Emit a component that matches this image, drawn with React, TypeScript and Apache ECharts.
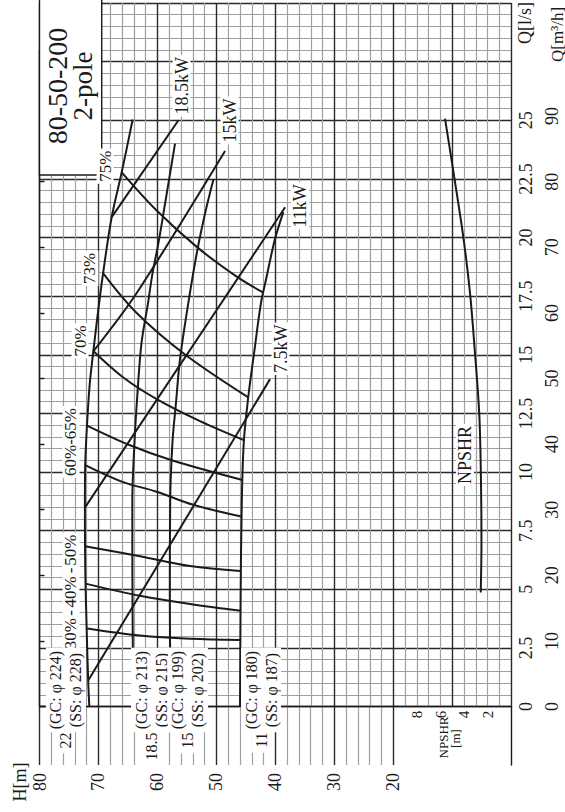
import React, { useEffect, useRef } from 'react';
import * as echarts from 'echarts';

const FONT = "'Liberation Serif', 'Times New Roman', 'DejaVu Serif', serif";
const INK = '#1a1a1a';

// ---------- H-Q curves (Q in l/s, H in m) ----------
const hq22Q = [0, 1.12, 3.3, 5.24, 6.83, 8.74, 10.29, 11.98, 13.7, 15.13, 16.92, 18.54, 20.87, 22.78, 25.03];
const hq22H = [71.55, 71.75, 72.0, 72.2, 72.28, 72.3, 72.25, 71.95, 71.5, 70.88, 70.03, 69.18, 67.76, 66.06, 64.2];
const hq185Q = [0, 4.51, 8.74, 11.28, 13.39, 15.51, 17.2, 18.47, 19.74, 21.43, 24.0];
const hq185H = [64.09, 64.23, 64.26, 63.89, 63.38, 62.7, 61.6, 60.84, 59.85, 58.72, 57.02];
const hq15Q = [0, 4.51, 8.74, 11.28, 12.97, 14.8, 17.2, 19.32, 21.01, 22.49];
const hq15H = [57.75, 57.9, 57.84, 57.45, 56.85, 56.18, 54.77, 53.34, 51.94, 50.49];
const hq11Q = [0, 4.5, 8.7, 11.3, 13.2, 15.1, 17.2, 18.2, 19.9, 21.08];
const hq11H = [46.0, 45.9, 45.7, 45.35, 44.6, 43.6, 42.45, 41.6, 40.1, 38.66];

// ---------- Power lines ----------
const p185Q = [20.87, 24.99];
const p185H = [67.76, 56.46];
const p15Q = [15.15, 17.6, 23.69];
const p15H = [70.85, 63.6, 48.54];
const p11Q = [8.48, 21.29];
const p11H = [72.3, 38.35];
const p75Q = [1.12, 13.96];
const p75H = [71.72, 40.91];

// ---------- Efficiency curves ----------
const e30Q = [3.33, 3.03, 2.89, 2.84];
const e30H = [71.9, 62.96, 54.48, 45.95];
const e40Q = [5.24, 4.72, 4.37, 4.08];
const e40H = [72.2, 62.96, 54.48, 45.9];
const e50Q = [6.83, 6.41, 5.99, 5.78];
const e50H = [72.28, 62.96, 54.48, 45.9];
const e60Q = [10.29, 9.59, 9.16, 8.6, 8.1];
const e60H = [72.25, 66.06, 60.13, 53.92, 45.8];
const e65Q = [11.98, 11.14, 10.5, 9.66];
const e65H = [71.95, 64.65, 57.58, 45.6];
const e70Q = [15.16, 14.03, 13.11, 12.17, 11.35];
const e70H = [70.88, 65.79, 60.13, 52.78, 45.25];
const e73Q = [18.47, 16.78, 15.01, 13.18];
const e73H = [69.2, 63.52, 55.33, 44.59];
const e75Q = [22.78, 21.15, 19.6, 18.33, 17.66];
const e75H = [66.06, 60.13, 53.34, 46.56, 42.1];

// ---------- NPSHR (m) ----------
const npshrQ = [4.86, 7.05, 9.59, 12.41, 15.01, 17.63, 20.03, 22.84, 25.07];
const npshrVal = [2.59, 2.53, 2.57, 2.71, 3.07, 3.5, 4.07, 4.92, 5.62];
const NPSHR_SCALE = 2; // NPSHR scale: 1 m NPSHR = 2 m of head grid

// ---------- Tick labels ----------
const qLsMaxLabel = 25;
const qM3MaxLabel = 90;
const npshrTicks = [2, 4, 6, 8];

// ---------- Annotation texts (anchored in H, Q) ----------
const powerLabelText = ['18.5kW', '15kW', '11kW', '7.5kW'];
const powerLabelH = [55.92, 47.78, 35.83, 39.13];
const powerLabelQ = [26.47, 24.99, 21.35, 15.26];

const effLabelText = ['75%', '73%', '70%', '60%-65%', '50%', '-', '40%', '-', '30%'];
const effLabelH = [68.89, 71.44, 73.13, 74.66, 74.66, 74.66, 74.66, 74.66, 74.66];
const effLabelQ = [23.04, 18.68, 15.59, 11.28, 6.67, 5.8, 4.89, 3.99, 3.11];

const diaNumber = ['22', '18.5', '15', '11'];
const diaGC = ['(GC: φ 224)', '(GC: φ 213)', '(GC: φ 199)', '(GC: φ 180)'];
const diaSS = ['(SS: φ 228)', '(SS: φ 215)', '(SS: φ 202)', '(SS: φ 187)'];
const diaGroupH = [75.51, 61.09, 54.82, 42.44];
const diaLineQ = 0.7;
const diaNumQ = -1.02;

const npshrLabelH = 7.84;
const npshrLabelQ = 10.73;

const zip = (h: number[], q: number[]) => h.map((v, i) => [v, q[i]]);

const majorLine = { color: '#2a2a2a', width: 1.4 };
const minorLine = { color: '#a0a0a0', width: 1.2 };

function lineSeries(h: number[], q: number[], smooth: number | boolean = 0.35) {
  return {
    type: 'line',
    xAxisIndex: 0,
    yAxisIndex: 0,
    data: zip(h, q),
    showSymbol: false,
    symbol: 'none',
    smooth,
    silent: true,
    z: 5,
    lineStyle: { color: INK, width: 2 },
  };
}

function rtext(
  text: string,
  x: number,
  y: number,
  size: number,
  bg = true,
  align = 'center',
  extra: any = {},
) {
  return {
    type: 'text',
    x,
    y,
    rotation: Math.PI / 2,
    z: 100,
    silent: true,
    style: {
      text,
      fontSize: size,
      fontFamily: FONT,
      fill: INK,
      align,
      verticalAlign: 'middle',
      backgroundColor: bg ? '#ffffff' : 'transparent',
      padding: bg ? [0, 2, 0, 2] : 0,
      ...extra,
    },
  };
}

export default function App() {
  const ref = useRef<HTMLDivElement>(null);

  useEffect(() => {
    if (!ref.current) return;
    const chart = echarts.init(ref.current, undefined, { renderer: 'svg' });
    const axisFont = { fontSize: 18, fontFamily: FONT, color: INK };

    const option: any = {
      animation: false,
      backgroundColor: '#ffffff',
      grid: [
        { left: 39.5, right: 53.7, top: -2, bottom: 105.5 },
        { left: 39.5, right: 171.7, top: 706.5, bottom: 47 },
        { left: 393.3, right: 53.7, top: 706.5, bottom: 47 },
        { left: 39.5, right: 53.7, top: 50.5, bottom: 105.5 },
      ],
      xAxis: [
        {
          gridIndex: 0, type: 'value', min: 0, max: 80, interval: 10, inverse: true,
          axisLine: { show: false }, axisTick: { show: false }, axisLabel: { show: false },
          splitLine: { show: true, lineStyle: majorLine },
          minorTick: { show: false, splitNumber: 5 },
          minorSplitLine: { show: true, lineStyle: minorLine },
        },
        {
          gridIndex: 1, type: 'value', min: 20, max: 80, interval: 10, inverse: true,
          axisLine: { show: true, lineStyle: { color: INK, width: 1.4 } },
          axisTick: { show: false },
          axisLabel: { show: true, rotate: 90, margin: 8, ...axisFont },
          splitLine: { show: true, lineStyle: majorLine },
          minorTick: { show: false, splitNumber: 5 },
          minorSplitLine: { show: true, lineStyle: minorLine },
        },
        {
          gridIndex: 2, type: 'value', min: 0, max: 20, inverse: true,
          axisLine: { show: true, lineStyle: { color: INK, width: 1.4 } },
          axisTick: { show: false }, axisLabel: { show: false }, splitLine: { show: false },
        },
        { gridIndex: 3, type: 'value', min: 0, max: 1, show: false },
      ],
      yAxis: [
        {
          gridIndex: 0, type: 'value', min: 0, max: 30, interval: 2.5, position: 'right',
          axisLine: { show: false }, axisTick: { show: false },
          axisLabel: {
            show: true, rotate: 90, margin: 6, ...axisFont,
            formatter: (v: number) => (v <= qLsMaxLabel ? String(v) : ''),
          },
          splitLine: { show: true, lineStyle: majorLine },
          minorTick: { show: false, splitNumber: 5 },
          minorSplitLine: { show: true, lineStyle: minorLine },
        },
        { gridIndex: 1, type: 'value', min: -2.5, max: 0, show: false },
        {
          gridIndex: 2, type: 'value', min: -2.5, max: 0, position: 'right',
          axisLine: { show: true, lineStyle: { color: INK, width: 1.4 } },
          axisTick: { show: false }, axisLabel: { show: false }, splitLine: { show: false },
        },
        {
          gridIndex: 3, type: 'value', min: 0, max: 100, interval: 10, position: 'right', offset: 28,
          axisLine: { show: true, lineStyle: { color: INK, width: 1.4 } },
          axisTick: { show: true, length: 5, lineStyle: { color: INK, width: 1.4 } },
          axisLabel: {
            show: true, rotate: 90, margin: 4, ...axisFont,
            formatter: (v: number) => (v <= qM3MaxLabel ? String(v) : ''),
          },
          splitLine: { show: false },
        },
      ],
      series: [
        lineSeries(hq22H, hq22Q),
        lineSeries(hq185H, hq185Q),
        lineSeries(hq15H, hq15Q),
        lineSeries(hq11H, hq11Q),
        lineSeries(p185H, p185Q, false),
        lineSeries(p15H, p15Q, 0.3),
        lineSeries(p11H, p11Q, false),
        lineSeries(p75H, p75Q, false),
        lineSeries(e30H, e30Q),
        lineSeries(e40H, e40Q),
        lineSeries(e50H, e50Q),
        lineSeries(e60H, e60Q),
        lineSeries(e65H, e65Q),
        lineSeries(e70H, e70Q),
        lineSeries(e73H, e73Q),
        lineSeries(e75H, e75Q),
        lineSeries(npshrVal.map((v) => v * NPSHR_SCALE), npshrQ),
      ],
    };
    chart.setOption(option);

    const px = (h: number, q: number): number[] =>
      chart.convertToPixel({ xAxisIndex: 0, yAxisIndex: 0 } as any, [h, q]) as number[];

    const g: any[] = [];
    // title box
    g.push({
      type: 'rect', z: 90, silent: true,
      shape: { x: 39.5, y: -2, width: 62.2, height: 177 },
      style: { fill: '#ffffff', stroke: INK, lineWidth: 1.4 },
    });
    g.push(rtext('80-50-200', 57, 86, 28, false));
    g.push(rtext('2-pole', 83, 86, 27, false));

    // axis names
    g.push(rtext('H[m]', 20, 782, 18, false));
    g.push(rtext('Q[l/s]', 525, 44, 18, false, 'left'));
    g.push(rtext('Q[m³/h]', 557, 62, 17, false, 'left'));

    // power labels
    powerLabelText.forEach((t, i) => {
      const [x, y] = px(powerLabelH[i], powerLabelQ[i]);
      g.push(rtext(t, x, y, 18));
    });
    // efficiency labels
    effLabelText.forEach((t, i) => {
      const [x, y] = px(effLabelH[i], effLabelQ[i]);
      g.push(rtext(t, x, y, 17));
    });
    // impeller diameter labels: two stacked lines, then the kW number below them
    diaNumber.forEach((t, i) => {
      const [x2, y2] = px(diaGroupH[i], diaLineQ);
      g.push(
        rtext(diaGC[i] + '\n' + diaSS[i], x2, y2, 16, true, 'center', {
          lineHeight: 20,
          padding: [0, 3, 0, 3],
        }),
      );
    });
    diaNumber.forEach((t, i) => {
      const [x1, y1] = px(diaGroupH[i], diaNumQ);
      g.push(rtext(t, x1, y1, 16, true, 'right', { padding: [1, 2, 1, 5] }));
    });
    // NPSHR curve label
    {
      const [x, y] = px(npshrLabelH, npshrLabelQ);
      g.push(rtext('NPSHR', x, y, 18));
    }
    // NPSHR scale
    npshrTicks.forEach((n) => {
      const [x, y] = px(n * NPSHR_SCALE, 0);
      g.push(rtext(String(n), x, y + 8, 15, false));
    });
    {
      const [x, y] = px(6 * NPSHR_SCALE, 0);
      g.push(rtext('NPSHR', x + 3, y + 31, 13, false));
      const [x2] = px(4.7 * NPSHR_SCALE, 0);
      g.push(rtext('[m]', x2, y + 32, 13, false));
    }

    chart.setOption({ graphic: g });

    return () => chart.dispose();
  }, []);

  return (
    <div
      ref={ref}
      style={{ position: 'absolute', left: 0, top: 0, width: 565, height: 812, background: '#fff' }}
    />
  );
}
